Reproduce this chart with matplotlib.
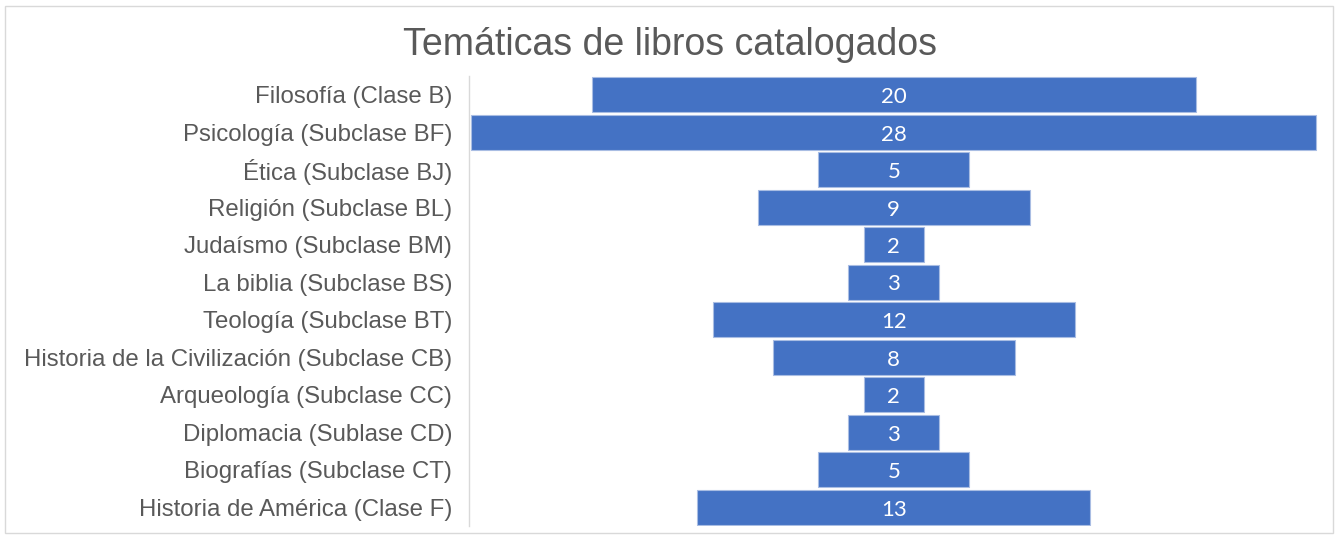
import matplotlib
matplotlib.use("Agg")
import matplotlib.pyplot as plt
from matplotlib.patches import Rectangle

categories = [
    "Filosofía (Clase B)",
    "Psicología (Subclase BF)",
    "Ética (Subclase BJ)",
    "Religión (Subclase BL)",
    "Judaísmo (Subclase BM)",
    "La biblia (Subclase BS)",
    "Teología (Subclase BT)",
    "Historia de la Civilización (Subclase CB)",
    "Arqueología (Subclase CC)",
    "Diplomacia (Sublase CD)",
    "Biografías (Subclase CT)",
    "Historia de América (Clase F)",
]
values = [20, 28, 5, 9, 2, 3, 12, 8, 2, 3, 5, 13]
title = "Temáticas de libros catalogados"

W, H = 1341, 536
fig = plt.figure(figsize=(W / 100, H / 100), dpi=100)

# chart border
fig.patches.append(Rectangle((5 / W, 1 - 533 / H), (1333 - 5) / W, (533 - 6) / H,
                             transform=fig.transFigure, fill=False,
                             edgecolor="#D9D9D9", linewidth=1.0))

ax_left, ax_right = 469 / W, 1318 / W
ax_top, ax_bot = 1 - 76 / H, 1 - 526 / H
ax = fig.add_axes([ax_left, ax_bot, ax_right - ax_left, ax_top - ax_bot])

n = len(categories)
ypos = list(range(n))
lefts = [-v / 2 for v in values]
ax.barh(ypos, values, left=lefts, height=0.93, color="#4472C4",
        edgecolor="#A9BDE3", linewidth=0.8)

for y, v in zip(ypos, values):
    ax.text(0, y + 0.06, str(v), ha="center", va="center", color="white",
            fontsize=16, family=["Lato", "DejaVu Sans"])

ax.set_xlim(-14.066, 14.05)
ax.set_ylim(n - 0.5, -0.5)
ax.set_yticks(ypos)
ax.set_yticklabels(categories, fontsize=17.3, color="#595959",
                   family=["Liberation Sans", "DejaVu Sans"])
ax.tick_params(axis="y", length=0, pad=12)
ax.set_xticks([])
for s in ["top", "right", "bottom"]:
    ax.spines[s].set_visible(False)
ax.spines["left"].set_color("#D9D9D9")
ax.spines["left"].set_linewidth(1.0)
ax.set_facecolor("none")

fig.text(670 / W, 1 - 45 / H, title, ha="center", va="center", fontsize=27,
         color="#595959", family=["Liberation Sans", "DejaVu Sans"])

fig.savefig("out.png", dpi=100, facecolor="white")
